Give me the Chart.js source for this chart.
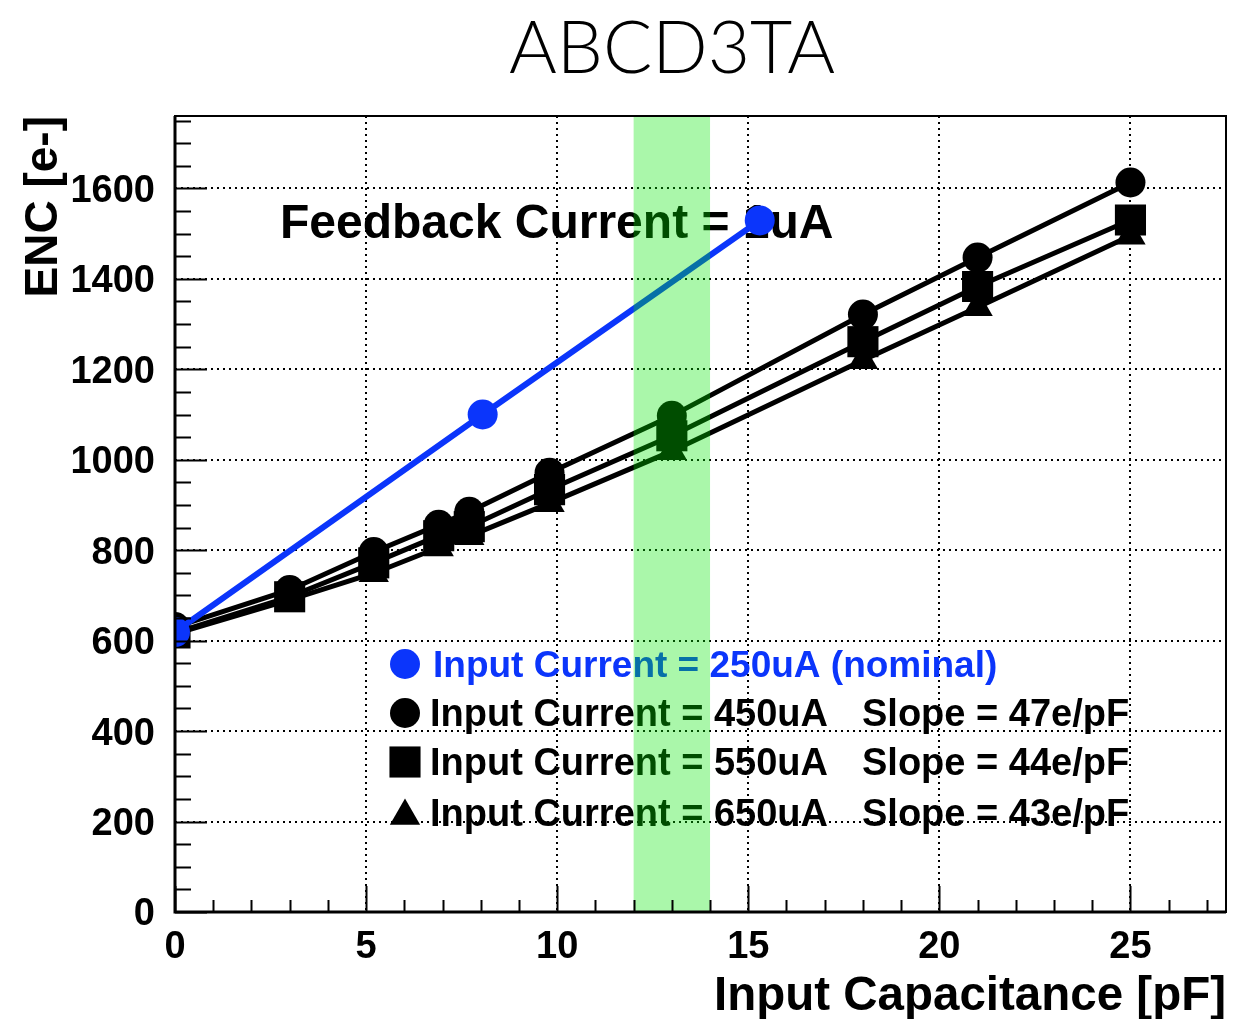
<!DOCTYPE html>
<html><head><meta charset="utf-8">
<script src="https://cdn.jsdelivr.net/npm/chart.js@4/dist/chart.umd.min.js"></script>
<style>html,body{margin:0;padding:0;background:#fff}canvas{display:block}</style>
</head><body>
<canvas id="c" width="1233" height="1019"></canvas>
<script>
// ---------- data ----------
const chartTitle = 'ABCD3TA';
const xTitle = 'Input Capacitance [pF]';
const yTitle = 'ENC [e-]';
const annotationText = 'Feedback Current = 1uA';

const capacitance = [0, 3, 5.2, 6.9, 7.7, 9.8, 13, 18, 21, 25];
const enc450 = [630, 712, 796, 856, 885, 971, 1097, 1321, 1447, 1613];
const enc550 = [617, 697, 772, 832, 852, 934, 1053, 1261, 1383, 1530];
const enc650 = [615, 690, 749, 806, 831, 904, 1019, 1220, 1337, 1495];

const capacitance250 = [0, 8.05, 15.3];
const enc250 = [619, 1100, 1529];

const seriesLabels = ['Input Current = 250uA (nominal)', 'Input Current = 450uA', 'Input Current = 550uA', 'Input Current = 650uA'];
const slopeLabels = ['', 'Slope = 47e/pF', 'Slope = 44e/pF', 'Slope = 43e/pF'];

const bandRange = [12, 14];
const xTickValues = [0, 5, 10, 15, 20, 25];
const yTickValues = [0, 200, 400, 600, 800, 1000, 1200, 1400, 1600];
const xRange = [0, 27.5];
const yRange = [0, 1760];

// ---------- styling ----------
const BLUE = '#0b35fb';
const FONT = '"Liberation Sans", Arial, Helvetica, sans-serif';
const toXY = (xs, ys) => xs.map((x, i) => ({x: x, y: ys[i]}));

function drawMarker(ctx, style, x, y, r) {
  ctx.beginPath();
  if (style === 'circle') {
    ctx.arc(x, y, r, 0, Math.PI * 2);
  } else if (style === 'rect') {
    const s = Math.SQRT1_2 * r;
    ctx.rect(x - s, y - s, 2 * s, 2 * s);
  } else if (style === 'triangle') {
    for (let k = 0; k < 3; k++) {
      const a = k * 2 * Math.PI / 3;
      const px = x + Math.sin(a) * r, py = y - Math.cos(a) * r;
      if (k === 0) ctx.moveTo(px, py); else ctx.lineTo(px, py);
    }
    ctx.closePath();
  }
  ctx.fill();
}

const textPlugin = {
  id: 'textPlugin',
  beforeDatasetsDraw(chart) {
    const ctx = chart.ctx;
    ctx.save();
    ctx.fillStyle = '#000';
    ctx.textBaseline = 'middle';
    ctx.textAlign = 'left';
    ctx.font = 'bold 48px ' + FONT;
    ctx.fillText(annotationText, 280, 225);

    // legend
    const rows = [664, 713, 762, 813];
    const styles = ['circle', 'circle', 'rect', 'triangle'];
    const radii = [15, 15, 22, 17.5];
    const colors = [BLUE, '#000', '#000', '#000'];
    for (let i = 0; i < rows.length; i++) {
      ctx.fillStyle = colors[i];
      ctx.font = 'bold ' + (i === 0 ? 37 : 38) + 'px ' + FONT;
      drawMarker(ctx, styles[i], 405, rows[i] + (styles[i] === 'triangle' ? 3 : 0), radii[i]);
      ctx.fillText(seriesLabels[i], i === 0 ? 433 : 430, rows[i] + 3);
      if (slopeLabels[i]) ctx.fillText(slopeLabels[i], 862, rows[i] + 3);
    }
    ctx.restore();
  },
  afterDatasetsDraw(chart) {
    const ctx = chart.ctx, a = chart.chartArea, xs = chart.scales.x;
    const x1 = xs.getPixelForValue(bandRange[0]), x2 = xs.getPixelForValue(bandRange[1]);
    ctx.save();
    ctx.fillStyle = 'rgba(0,231,0,0.335)';
    ctx.fillRect(x1, a.top, x2 - x1, a.bottom - a.top);
    ctx.restore();
  },
  afterDraw(chart) {
    const ctx = chart.ctx, a = chart.chartArea, xs = chart.scales.x, ys = chart.scales.y;
    ctx.save();
    ctx.strokeStyle = '#000';
    ctx.lineWidth = 2;
    ctx.beginPath();
    for (let v = 0; v <= yRange[1]; v += 50) {
      const y = Math.round(ys.getPixelForValue(v)) + 0.5;
      const len = v % 200 === 0 ? 32 : 16;
      ctx.moveTo(a.left, y); ctx.lineTo(a.left + len, y);
    }
    for (let v = 0; v <= xRange[1]; v += 1) {
      const x = Math.round(xs.getPixelForValue(v)) + 0.5;
      const len = v % 5 === 0 ? 26 : 12;
      ctx.moveTo(x, a.bottom); ctx.lineTo(x, a.bottom - len);
    }
    ctx.stroke();
    // frame
    ctx.lineWidth = 2;
    ctx.strokeRect(a.left, a.top, a.right - a.left, a.bottom - a.top);
    ctx.lineWidth = 3;
    ctx.beginPath();
    ctx.moveTo(a.left, a.top); ctx.lineTo(a.left, a.bottom); ctx.lineTo(a.right, a.bottom);
    ctx.stroke();
    // title
    ctx.fillStyle = '#000';
    ctx.textAlign = 'center';
    ctx.textBaseline = 'middle';
    ctx.font = '300 73px Lato, "Open Sans", ' + FONT;
    ctx.fillText(chartTitle, 672, 49);
    ctx.restore();
  }
};

new Chart(document.getElementById('c'), {
  type: 'scatter',
  data: {
    datasets: [
      {label: seriesLabels[0], data: toXY(capacitance250, enc250), showLine: true,
       borderColor: BLUE, backgroundColor: BLUE, borderWidth: 6, pointStyle: 'circle', pointRadius: 15, pointBorderWidth: 0},
      {label: seriesLabels[1], data: toXY(capacitance, enc450), showLine: true,
       borderColor: '#000', backgroundColor: '#000', borderWidth: 5, pointStyle: 'circle', pointRadius: 15, pointBorderWidth: 0},
      {label: seriesLabels[2], data: toXY(capacitance, enc550), showLine: true,
       borderColor: '#000', backgroundColor: '#000', borderWidth: 5, pointStyle: 'rect', pointRadius: 22, pointBorderWidth: 0},
      {label: seriesLabels[3], data: toXY(capacitance, enc650), showLine: true,
       borderColor: '#000', backgroundColor: '#000', borderWidth: 5, pointStyle: 'triangle', pointRadius: 17.5, pointBorderWidth: 0}
    ]
  },
  options: {
    responsive: false,
    animation: false,
    layout: {autoPadding: false, padding: {top: 116, right: 7, left: 0, bottom: 0}},
    plugins: {legend: {display: false}, tooltip: {enabled: false}, title: {display: false}},
    scales: {
      x: {
        type: 'linear', min: xRange[0], max: xRange[1],
        afterBuildTicks: s => { s.ticks = xTickValues.map(v => ({value: v})); },
        afterFit: s => { s.height = 107; },
        ticks: {color: '#000', font: {family: FONT, size: 38, weight: 'bold'}, padding: 13, maxRotation: 0, autoSkip: false,
                callback: v => String(v)},
        grid: {drawTicks: false, lineWidth: 2,
               color: c => (c.tick && c.tick.value > 0) ? '#000' : 'rgba(0,0,0,0)'},
        border: {display: false, dash: [2, 4]},
        title: {display: true, text: xTitle, align: 'end', color: '#000',
                font: {family: FONT, size: 47.5, weight: 'bold', lineHeight: 1}, padding: {top: 0, bottom: -2}}
      },
      y: {
        type: 'linear', min: yRange[0], max: yRange[1],
        afterBuildTicks: s => { s.ticks = yTickValues.map(v => ({value: v})); },
        afterFit: s => { s.width = 175; },
        ticks: {color: '#000', font: {family: FONT, size: 38, weight: 'bold'}, padding: 20, autoSkip: false,
                labelOffset: 3, callback: v => String(v)},
        grid: {drawTicks: false, lineWidth: 2,
               color: c => (c.tick && c.tick.value > 0) ? '#000' : 'rgba(0,0,0,0)'},
        border: {display: false, dash: [2, 4]},
        title: {display: true, text: yTitle, align: 'end', color: '#000',
                font: {family: FONT, size: 46, weight: 'bold', lineHeight: 1}, padding: {top: 21, bottom: 0}}
      }
    }
  },
  plugins: [textPlugin]
});
</script>
</body></html>
